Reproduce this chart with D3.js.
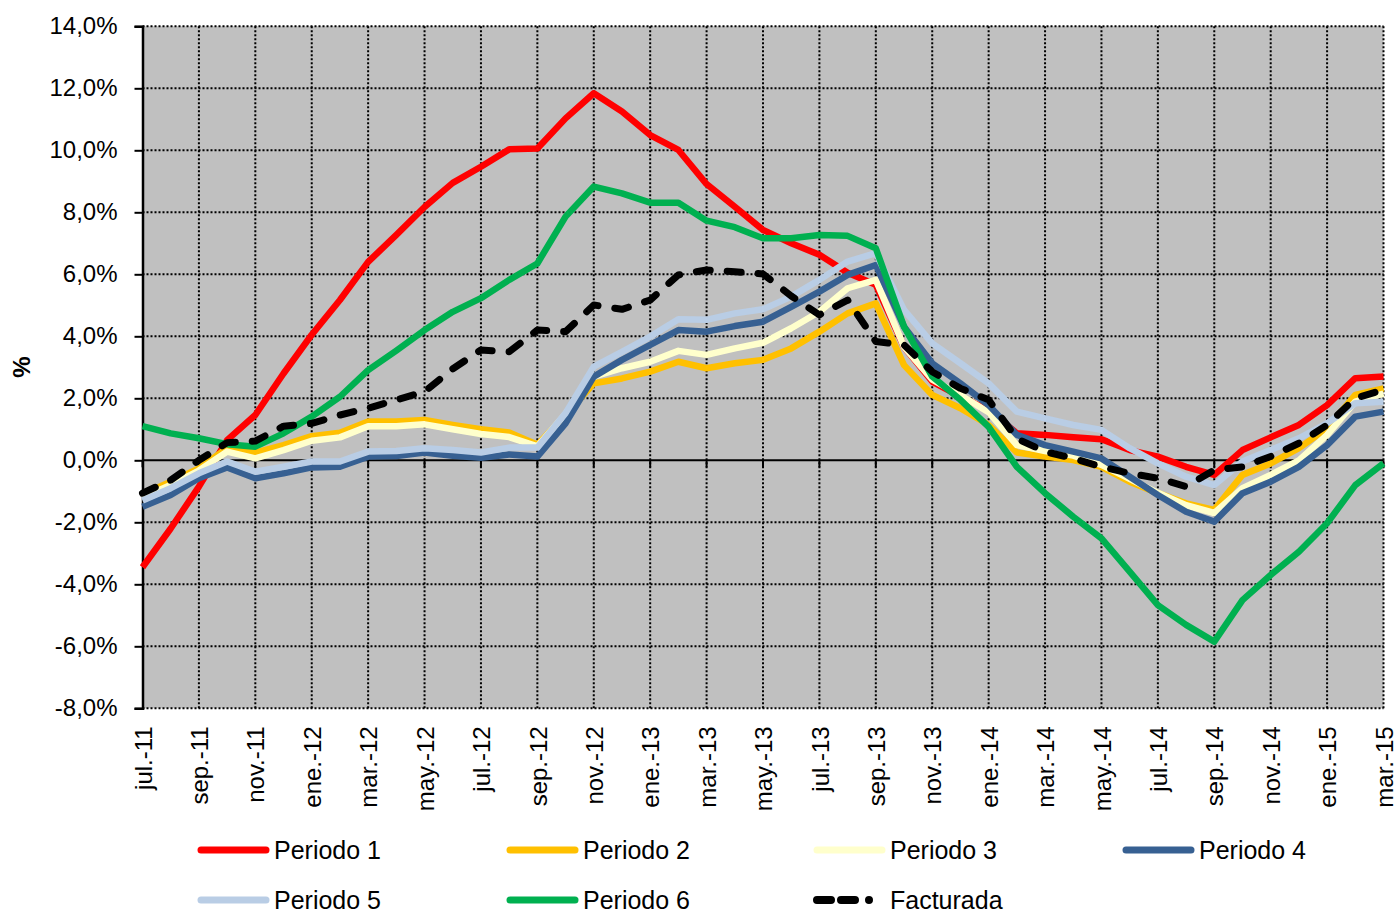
<!DOCTYPE html>
<html><head><meta charset="utf-8">
<script src="https://cdn.jsdelivr.net/npm/d3@7/dist/d3.min.js"></script>
<style>
body{margin:0;background:#fff;}
svg{display:block;font-family:"Liberation Sans",Arial,sans-serif;}
</style></head>
<body><svg id="chart" width="1397" height="915"></svg>
<script>
const months = ["jul.-11","ago.-11","sep.-11","oct.-11","nov.-11","dic.-11",
"ene.-12","feb.-12","mar.-12","abr.-12","may.-12","jun.-12","jul.-12","ago.-12","sep.-12","oct.-12","nov.-12","dic.-12",
"ene.-13","feb.-13","mar.-13","abr.-13","may.-13","jun.-13","jul.-13","ago.-13","sep.-13","oct.-13","nov.-13","dic.-13",
"ene.-14","feb.-14","mar.-14","abr.-14","may.-14","jun.-14","jul.-14","ago.-14","sep.-14","oct.-14","nov.-14","dic.-14",
"ene.-15","feb.-15","mar.-15"];
const yTicks = [-8,-6,-4,-2,0,2,4,6,8,10,12,14];
const periodo1 = [-3.45,-2.2,-0.85,0.65,1.46,2.8,4.05,5.17,6.4,7.27,8.17,8.95,9.47,10.03,10.06,11.03,11.84,11.25,10.49,10.01,8.91,8.18,7.43,7.0,6.63,6.05,5.66,3.66,2.54,2.05,1.62,0.87,0.82,0.74,0.68,0.33,0.12,-0.21,-0.47,0.33,0.74,1.14,1.78,2.65,2.7];
const periodo2 = [-1.1,-0.69,-0.26,0.39,0.25,0.49,0.78,0.89,1.25,1.25,1.3,1.14,1.0,0.9,0.5,1.45,2.48,2.64,2.86,3.18,2.97,3.13,3.24,3.61,4.15,4.74,5.06,3.07,2.11,1.68,1.14,0.25,0.12,0.01,-0.21,-0.69,-1.06,-1.39,-1.6,-0.47,-0.1,0.39,1.03,2.11,2.32];
const periodo3 = [-1.2,-0.8,-0.33,0.28,0.06,0.33,0.63,0.74,1.1,1.1,1.16,1.0,0.85,0.75,0.45,1.5,2.7,2.97,3.18,3.53,3.4,3.61,3.79,4.26,4.79,5.55,5.82,3.66,2.6,2.1,1.55,0.49,0.3,0.15,-0.15,-0.6,-1.05,-1.45,-1.7,-0.9,-0.47,0.0,0.82,1.89,2.15];
const periodo4 = [-1.5,-1.12,-0.58,-0.23,-0.58,-0.42,-0.23,-0.21,0.12,0.14,0.25,0.15,0.08,0.19,0.12,1.19,2.7,3.24,3.72,4.2,4.15,4.33,4.47,4.95,5.44,5.98,6.3,4.31,3.13,2.48,1.78,0.82,0.49,0.28,0.06,-0.53,-1.12,-1.66,-1.98,-1.06,-0.69,-0.21,0.49,1.41,1.57];
const periodo5 = [-1.3,-0.9,-0.42,-0.04,-0.37,-0.21,-0.04,-0.04,0.28,0.3,0.39,0.33,0.25,0.41,0.41,1.52,3.02,3.5,3.99,4.55,4.53,4.74,4.87,5.28,5.82,6.41,6.68,4.85,3.77,3.13,2.48,1.57,1.35,1.14,0.98,0.39,-0.1,-0.53,-0.8,-0.04,0.33,0.71,1.19,1.84,1.89];
const periodo6 = [1.1,0.87,0.71,0.52,0.44,0.87,1.41,2.05,2.91,3.54,4.2,4.79,5.23,5.82,6.35,7.86,8.83,8.61,8.31,8.31,7.73,7.52,7.16,7.16,7.27,7.24,6.84,4.31,2.7,1.95,1.08,-0.21,-1.06,-1.82,-2.52,-3.59,-4.67,-5.31,-5.85,-4.51,-3.7,-2.95,-2.03,-0.8,-0.1];
const facturada = [-1.06,-0.64,0.0,0.57,0.62,1.1,1.19,1.46,1.68,1.95,2.21,2.95,3.56,3.5,4.2,4.15,5.01,4.87,5.17,5.98,6.14,6.08,6.01,5.3,4.69,5.17,3.83,3.72,2.86,2.32,1.95,0.7,0.28,0.06,-0.21,-0.42,-0.58,-0.85,-0.31,-0.21,0.12,0.55,1.14,2.0,2.27];
const seriesNames = ["Periodo 1","Periodo 2","Periodo 3","Periodo 4","Periodo 5","Periodo 6","Facturada"];
const seriesColors = ["#FF0000","#FFC000","#FFFFCC","#376092","#B9CDE5","#00B050","#000000"];

const series = [periodo1,periodo2,periodo3,periodo4,periodo5,periodo6,facturada].map((v,i)=>({name:seriesNames[i],color:seriesColors[i],values:v,dashed:i===6}));

const svg = d3.select("#chart");
const L=142.5, R=1383.5, T=26.3, B=708.3;
const x = d3.scalePoint().domain(months).range([L,R]);
const y = d3.scaleLinear().domain([-8,14]).range([B,T]);

svg.append("rect").attr("x",L).attr("y",T).attr("width",R-L).attr("height",B-T).attr("fill","#C0C0C0");

const tickMonths = months.filter((m,i)=>i%2===0);
// gridlines
const grid = svg.append("g").attr("stroke","#000").attr("stroke-width",2).attr("stroke-dasharray","2,2");
grid.selectAll("line.h").data(yTicks.filter(t=>t!==0)).enter().append("line")
  .attr("x1",L).attr("x2",R).attr("y1",d=>y(d)).attr("y2",d=>y(d));
grid.selectAll("line.v").data(tickMonths.slice(1)).enter().append("line")
  .attr("x1",d=>x(d)).attr("x2",d=>x(d)).attr("y1",T).attr("y2",B);

// zero axis
svg.append("line").attr("x1",L).attr("x2",R).attr("y1",y(0)).attr("y2",y(0)).attr("stroke","#000").attr("stroke-width",2);
svg.append("g").selectAll("line").data(tickMonths).enter().append("line")
  .attr("x1",d=>x(d)).attr("x2",d=>x(d)).attr("y1",y(0)).attr("y2",y(0)+7).attr("stroke","#000").attr("stroke-width",2);

// y axis
const yAxis = d3.axisLeft(y).tickValues(yTicks).tickSize(8).tickPadding(17)
  .tickFormat(d=>d.toFixed(1).replace(".",",")+"%");
const ya = svg.append("g").attr("transform",`translate(${L},0)`).call(yAxis);
ya.select(".domain").attr("stroke-width",2.5);
ya.selectAll(".tick line").attr("stroke-width",2);
ya.selectAll("text").attr("font-size",24).attr("fill","#000").attr("font-family","Liberation Sans, Arial, sans-serif");

// x labels
const xAxis = d3.axisBottom(x).tickValues(tickMonths).tickSize(0);
const xa = svg.append("g").attr("transform",`translate(0,${B})`).call(xAxis);
xa.select(".domain").remove();
xa.selectAll("text").attr("font-size",24).attr("fill","#000").attr("font-family","Liberation Sans, Arial, sans-serif")
  .attr("transform","rotate(-90)").attr("text-anchor","end").attr("x",-18).attr("y",0).attr("dy","0.36em");

// y title
svg.append("text").attr("transform","translate(30,367) rotate(-90)").attr("text-anchor","middle")
  .attr("font-size",24).attr("font-weight","bold").text("%");

// lines
const line = d3.line().x((d,i)=>x(months[i])).y(d=>y(d));
svg.append("g").selectAll("path").data(series).enter().append("path")
  .attr("d",d=>line(d.values)).attr("fill","none").attr("stroke",d=>d.color)
  .attr("stroke-width",d=>d.dashed?7:6.5)
  .attr("stroke-linejoin","round")
  .attr("stroke-linecap",d=>d.dashed?"round":"butt")
  .attr("stroke-dasharray",d=>d.dashed?"14,17":null);

// legend
const legX = [198,507,814,1123];
const legY = [850,900];
const lg = svg.append("g").selectAll("g").data(series).enter().append("g")
  .attr("transform",(d,i)=>`translate(${legX[i%4]},${legY[Math.floor(i/4)]})`);
lg.append("line").attr("x1",3).attr("x2",68).attr("y1",0).attr("y2",0)
  .attr("stroke",d=>d.color).attr("stroke-width",d=>d.dashed?8:7).attr("stroke-linecap","round")
  .attr("stroke-dasharray",d=>d.dashed?"14,10,14,14,0,20":null);
lg.append("text").attr("x",76).attr("y",0).attr("dy","0.36em").attr("font-size",25).text(d=>d.name);
</script></body></html>
